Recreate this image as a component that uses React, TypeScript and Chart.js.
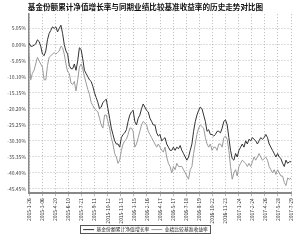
import React, { useEffect, useRef } from "react";
import { Chart, registerables } from "chart.js";

Chart.register(...registerables);

const TITLE = "基金份额累计净值增长率与同期业绩比较基准收益率的历史走势对比图";
const SERIES_NAMES = ["基金份额累计净值增长率", "业绩比较基准收益率"];

const xLabels = [
  "2015-1-26", "2015-3-06", "2015-4-20", "2015-6-10", "2015-7-21", "2015-9-11",
  "2015-10-12", "2015-11-13", "2016-1-15", "2016-2-16", "2016-4-17", "2016-5-17",
  "2016-7-18", "2016-8-19", "2016-10-22", "2016-11-23", "2017-1-24", "2017-2-24",
  "2017-4-26", "2017-5-28", "2017-7-29",
];

const yTicks = [5.05, 0, -5.05, -10.1, -15.15, -20.2, -25.25, -30.3, -35.35, -40.4, -45.45];

const fundValues = [
  0.5, -0.5, -0.5, -0.2, 0.2, 1.5, 1.0, -0.5, -3.0, -3.5,
  -2.0, 1.5, 3.5, 4.5, 5.6, 5.1, 5.6, 4.0, 5.1, 6.1,
  3.5, 0.0, -2.0, -3.0, -6.6, -7.6, -7.6, -6.1, -8.1, -5.1,
  -1.0, -1.5, -4.5, -8.1, -9.1, -10.1, -11.1, -11.6, -13.1, -15.2,
  -16.7, -18.2, -20.2, -19.7, -18.2, -17.7, -17.2, -20.2, -23.2, -26.3,
  -28.3, -30.3, -31.3, -31.3, -32.3, -29.3, -28.3, -27.8, -26.8, -24.2,
  -22.2, -21.2, -20.7, -24.2, -25.3, -23.2, -22.2, -20.2, -18.7, -19.7,
  -20.7, -21.2, -23.2, -24.2, -25.3, -25.3, -27.8, -28.8, -28.3, -30.3,
  -29.8, -29.3, -31.3, -32.3, -33.3, -33.3, -32.3, -33.3, -32.3, -32.8,
  -31.8, -33.3, -34.3, -35.4, -36.4, -35.4, -33.3, -31.3, -27.3, -24.2,
  -22.2, -20.7, -19.7, -20.2, -22.2, -24.2, -27.3, -26.8, -28.3, -28.3,
  -28.8, -28.3, -27.3, -27.3, -27.8, -26.3, -24.2, -23.7, -25.3, -29.3,
  -33.3, -35.9, -36.4, -34.3, -35.4, -33.3, -32.3, -31.3, -32.3, -30.3,
  -31.3, -29.8, -30.3, -29.3, -29.8, -30.3, -31.3, -30.3, -29.3, -29.8,
  -29.3, -28.3, -29.3, -31.3, -32.3, -33.3, -34.3, -35.4, -34.3, -35.4,
  -35.9, -37.4, -38.4, -36.4, -37.4, -36.9, -36.9,
];

const benchValues = [
  -3.0, -11.1, -9.1, -8.1, -6.1, -4.0, -5.1, -6.1, -7.1, -11.1,
  -11.1, -6.6, -4.0, -3.5, -3.0, -2.5, -3.0, -2.5, -2.0, -0.5,
  -1.0, -3.0, -6.1, -8.6, -9.1, -12.1, -12.6, -11.6, -14.6, -11.1,
  -7.1, -6.1, -7.6, -10.1, -12.1, -14.1, -15.7, -18.2, -19.2, -20.2,
  -20.7, -21.2, -23.2, -25.3, -26.3, -22.2, -22.2, -24.2, -26.3, -29.3,
  -31.3, -34.3, -35.4, -37.4, -36.4, -33.3, -31.3, -30.3, -29.8, -28.3,
  -26.3, -26.3, -27.3, -32.3, -31.3, -29.3, -27.3, -25.3, -24.2, -24.7,
  -25.3, -27.3, -28.3, -29.3, -30.3, -31.3, -32.3, -31.3, -32.3, -33.3,
  -33.8, -32.3, -35.4, -37.4, -38.4, -40.4, -38.4, -39.4, -37.4, -38.4,
  -38.4, -38.4, -39.4, -40.4, -41.4, -42.4, -39.4, -38.4, -34.3, -31.3,
  -28.3, -26.3, -25.3, -25.8, -26.3, -29.3, -31.3, -32.3, -31.3, -33.3,
  -32.3, -32.3, -33.3, -31.3, -31.3, -32.3, -29.3, -28.8, -29.8, -33.3,
  -38.4, -42.4, -40.4, -39.4, -41.4, -38.4, -37.4, -36.4, -36.9, -37.4,
  -38.4, -37.4, -38.4, -36.9, -35.4, -36.4, -35.4, -34.3, -35.4, -36.4,
  -35.9, -35.4, -36.4, -38.4, -39.4, -40.4, -39.4, -40.9, -39.4, -40.4,
  -41.4, -41.4, -43.4, -44.4, -42.0, -42.4, -42.0,
];

const FONT = "'Noto Sans CJK SC', 'Noto Sans', sans-serif";

const legendBox = {
  id: "legendBox",
  afterDraw(chart: any) {
    const lg = chart.legend;
    if (!lg || !lg.legendHitBoxes || !lg.legendHitBoxes.length) return;
    const boxes = lg.legendHitBoxes;
    let x0 = Infinity, y0 = Infinity, x1 = -Infinity, y1 = -Infinity;
    for (const b of boxes) {
      x0 = Math.min(x0, b.left);
      y0 = Math.min(y0, b.top);
      x1 = Math.max(x1, b.left + b.width);
      y1 = Math.max(y1, b.top + b.height);
    }
    const ctx = chart.ctx;
    ctx.save();
    ctx.strokeStyle = "#555";
    ctx.lineWidth = 1;
    ctx.strokeRect(Math.round(x0 - 3) + 0.5, Math.round(y0 - 2) + 0.5, Math.round(x1 - x0 + 5), Math.round(y1 - y0 + 3));
    ctx.restore();
  },
};

export default function App() {
  const ref = useRef<HTMLCanvasElement | null>(null);
  useEffect(() => {
    if (!ref.current) return;
    const n = fundValues.length;
    const toPts = (arr: number[]) => arr.map((v, i) => ({ x: (i * (xLabels.length - 1)) / (n - 1), y: v }));
    const chart = new Chart(ref.current, {
      type: "line",
      data: {
        datasets: [
          {
            label: SERIES_NAMES[0],
            data: toPts(fundValues),
            borderColor: "#333333",
            backgroundColor: "#333333",
            borderWidth: 1,
            pointRadius: 0,
            pointStyle: "line",
          },
          {
            label: SERIES_NAMES[1],
            data: toPts(benchValues),
            borderColor: "#9a9a9a",
            backgroundColor: "#9a9a9a",
            borderWidth: 1,
            pointRadius: 0,
            pointStyle: "line",
          },
        ],
      },
      options: {
        animation: false,
        responsive: false,
        maintainAspectRatio: false,
        layout: { padding: { left: 0, right: 9, top: 0, bottom: 2 } },
        plugins: {
          title: {
            display: true,
            text: TITLE,
            color: "#111",
            font: { family: FONT, size: 7.6, weight: "bold" },
            padding: { top: 3, bottom: 2 },
          },
          legend: {
            position: "bottom",
            labels: {
              color: "#222",
              font: { family: FONT, size: 4.8 },
              usePointStyle: true,
              pointStyleWidth: 11,
              boxHeight: 5,
              padding: 2,
            },
          },
          tooltip: { enabled: false },
        },
        scales: {
          x: {
            type: "linear",
            min: 0,
            max: xLabels.length - 1,
            afterBuildTicks: (s: any) => {
              s.ticks = xLabels.map((_, i) => ({ value: i }));
            },
            afterFit: (s: any) => {
              s.height = 32;
            },
            ticks: {
              autoSkip: false,
              minRotation: 90,
              maxRotation: 90,
              padding: 2,
              color: "#333",
              font: { family: FONT, size: 5 },
              callback: (v: any) => xLabels[Math.round(Number(v))] ?? "",
            },
            grid: {
              color: "#aaa",
              lineWidth: 0.8,
              tickLength: 3,
              drawTicks: true,
            },
            border: { display: true, color: "#888", width: 2, dash: [1, 2] },
          },
          y: {
            min: -46.8,
            max: 9.6,
            afterBuildTicks: (s: any) => {
              s.ticks = yTicks.map((v) => ({ value: v }));
            },
            afterFit: (s: any) => {
              s.width = 29;
            },
            ticks: {
              autoSkip: false,
              padding: 3,
              color: "#444",
              font: { family: FONT, size: 5 },
              callback: (v: any) => Number(v).toFixed(2) + "%",
            },
            grid: {
              color: "#aaa",
              lineWidth: 0.8,
              drawTicks: false,
            },
            border: { display: true, color: "#888", width: 1.5, dash: [1, 2] },
          },
        },
      },
      plugins: [legendBox],
    });
    return () => chart.destroy();
  }, []);
  return (
    <div style={{ position: "fixed", left: 0, top: 0, width: 300, height: 244, background: "#fff" }}>
      <canvas ref={ref} width={300} height={244} style={{ width: 300, height: 244 }} />
    </div>
  );
}
